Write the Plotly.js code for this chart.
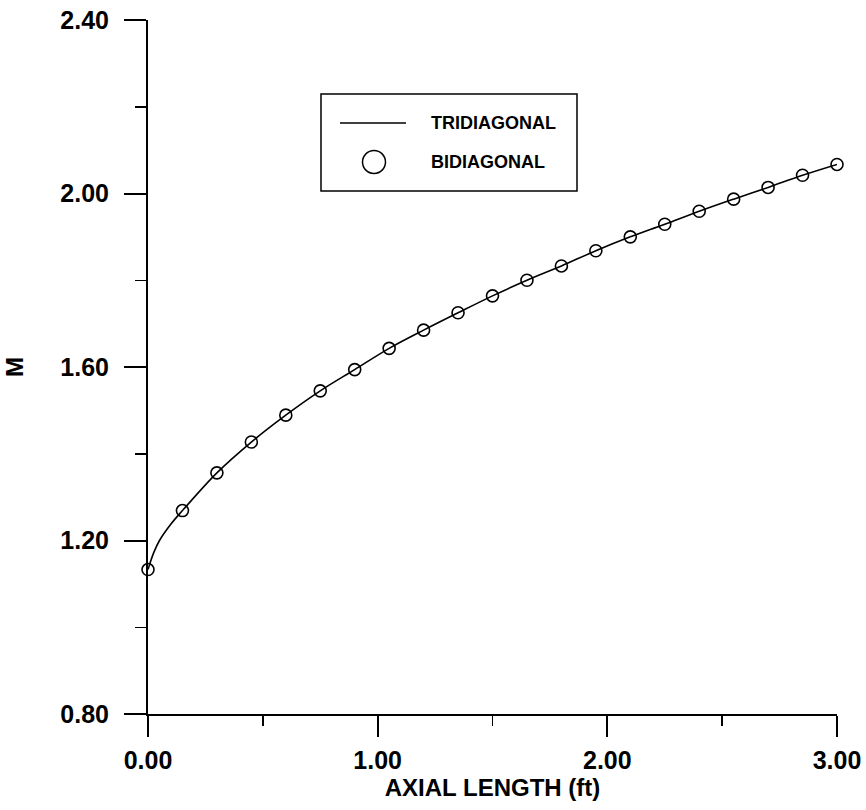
<!DOCTYPE html>
<html>
<head>
<meta charset="utf-8">
<script src="https://cdn.plot.ly/plotly-3.0.1.min.js"></script>
<style>
  html, body { margin: 0; padding: 0; background: #ffffff; }
  #chart { width: 866px; height: 810px; }
</style>
</head>
<body>
<div id="chart"></div>
<script>
// ---- data ----
const bidiX = [0.00, 0.15, 0.30, 0.45, 0.60, 0.75, 0.90, 1.05, 1.20, 1.35, 1.50,
               1.65, 1.80, 1.95, 2.10, 2.25, 2.40, 2.55, 2.70, 2.85, 3.00];
const bidiM = [1.133, 1.269, 1.356, 1.427, 1.489, 1.545, 1.594, 1.643, 1.685, 1.725, 1.764,
               1.800, 1.833, 1.868, 1.900, 1.929, 1.959, 1.987, 2.014, 2.042, 2.067];

const triX = [0.00, 0.025, 0.05, 0.10, 0.15, 0.30, 0.45, 0.60, 0.75, 0.90, 1.05, 1.20, 1.35, 1.50,
              1.65, 1.80, 1.95, 2.10, 2.25, 2.40, 2.55, 2.70, 2.85, 3.00];
const triM = [1.133, 1.172, 1.200, 1.238, 1.269, 1.356, 1.427, 1.489, 1.545, 1.594, 1.643, 1.685, 1.725, 1.764,
              1.800, 1.833, 1.868, 1.900, 1.929, 1.959, 1.987, 2.014, 2.042, 2.067];

const seriesNames = ['TRIDIAGONAL', 'BIDIAGONAL'];
const xTickVals = [0, 1, 2, 3];
const xTickText = ['0.00', '1.00', '2.00', '3.00'];
const yTickVals = [0.8, 1.2, 1.6, 2.0, 2.4];
const yTickText = ['0.80', '1.20', '1.60', '2.00', '2.40'];
const xTitle = 'AXIAL LENGTH (ft)';
const yTitle = 'M';

// ---- chart ----
const FONT = 'Liberation Sans, Arial, Helvetica, sans-serif';

const traces = [
  {
    x: triX, y: triM, name: seriesNames[0], type: 'scatter', mode: 'lines',
    line: { color: '#000000', width: 1.6, shape: 'spline', smoothing: 1 },
    showlegend: false, cliponaxis: false
  },
  {
    x: bidiX, y: bidiM, name: seriesNames[1], type: 'scatter', mode: 'markers',
    marker: { symbol: 'circle-open', size: 12, color: '#000000', line: { width: 1.6, color: '#000000' } },
    showlegend: false, cliponaxis: false
  }
];

// legend drawn by hand (paper coords)
const W = 866, H = 810, ML = 148, MR = 29, MT = 20, MB = 96;
const PW = W - ML - MR, PH = H - MT - MB;
const px = v => (v - ML) / PW;
const py = v => (H - MB - v) / PH;

const shapes = [
  { type: 'rect', xref: 'paper', yref: 'paper', x0: px(321), x1: px(577), y0: py(191), y1: py(94),
    line: { color: '#000000', width: 1.5 }, fillcolor: 'rgba(0,0,0,0)' },
  { type: 'line', xref: 'paper', yref: 'paper', x0: px(340), x1: px(406), y0: py(123), y1: py(123),
    line: { color: '#000000', width: 1.6 } },
  { type: 'circle', xref: 'paper', yref: 'paper', xsizemode: 'pixel', ysizemode: 'pixel',
    xanchor: px(374), yanchor: py(162), x0: -11.5, x1: 11.5, y0: -11.5, y1: 11.5,
    line: { color: '#000000', width: 1.5 }, fillcolor: 'rgba(0,0,0,0)' }
];

const annotations = [
  { xref: 'paper', yref: 'paper', x: px(429), y: py(123), xanchor: 'left', yanchor: 'middle',
    text: seriesNames[0], showarrow: false,
    font: { family: FONT, size: 18, color: '#000000', weight: 'bold' } },
  { xref: 'paper', yref: 'paper', x: px(429), y: py(162), xanchor: 'left', yanchor: 'middle',
    text: seriesNames[1], showarrow: false,
    font: { family: FONT, size: 18, color: '#000000', weight: 'bold' } }
];

const tickFont = { family: FONT, size: 25, color: '#000000', weight: 'bold' };

const layout = {
  width: W, height: H,
  margin: { l: ML, r: MR, t: MT, b: MB, pad: 0 },
  paper_bgcolor: '#ffffff', plot_bgcolor: '#ffffff',
  showlegend: false,
  xaxis: {
    range: [0, 3], autorange: false,
    tickmode: 'array', tickvals: xTickVals, ticktext: xTickText,
    ticks: 'outside', ticklen: 21, tickwidth: 2, tickcolor: '#000000',
    minor: { dtick: 0.5, ticks: 'outside', ticklen: 10, tickwidth: 1.5, tickcolor: '#000000', showgrid: false },
    showline: true, linecolor: '#000000', linewidth: 2,
    showgrid: false, zeroline: false,
    tickfont: tickFont, ticklabelstandoff: 2,
    title: { text: xTitle, font: { family: FONT, size: 24, color: '#000000', weight: 'bold' }, standoff: 0 }
  },
  yaxis: {
    range: [0.8, 2.4], autorange: false,
    tickmode: 'array', tickvals: yTickVals, ticktext: yTickText,
    ticks: 'outside', ticklen: 22, tickwidth: 2, tickcolor: '#000000',
    minor: { dtick: 0.2, ticks: 'outside', ticklen: 11, tickwidth: 1.5, tickcolor: '#000000', showgrid: false },
    showline: true, linecolor: '#000000', linewidth: 2,
    showgrid: false, zeroline: false,
    tickfont: tickFont, ticklabelstandoff: 10,
    title: { text: yTitle, font: { family: FONT, size: 24, color: '#000000', weight: 'bold' }, standoff: 30 }
  },
  shapes: shapes,
  annotations: annotations
};

Plotly.newPlot('chart', traces, layout, { displayModeBar: false, staticPlot: true });
</script>
</body>
</html>
